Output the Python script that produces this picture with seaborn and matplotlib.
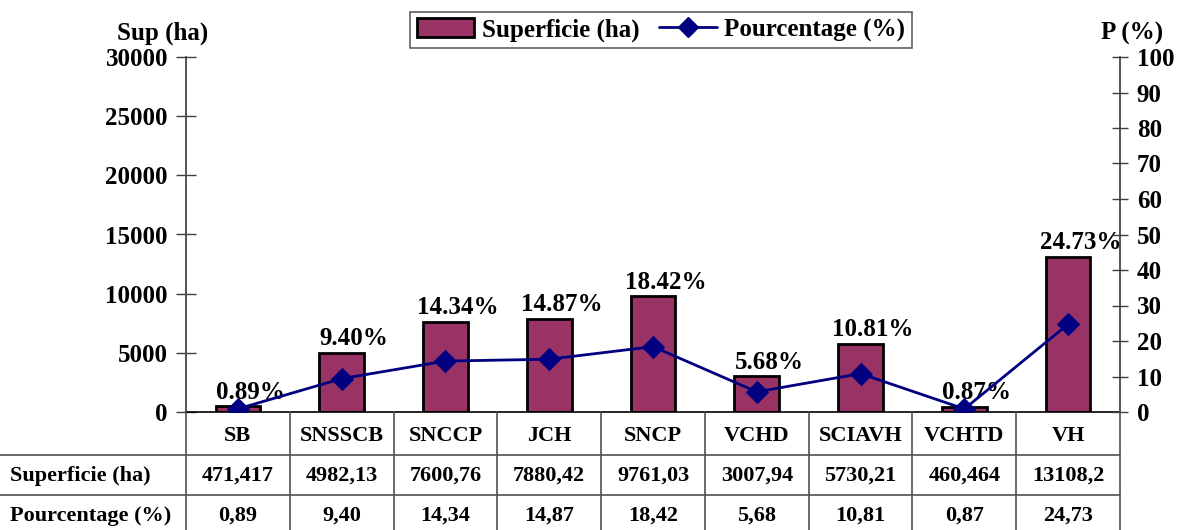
import numpy as np
import pandas as pd
import matplotlib
matplotlib.use("Agg")
import matplotlib.pyplot as plt
import matplotlib.transforms as mtransforms
from matplotlib.patches import Patch
from matplotlib.lines import Line2D
import seaborn as sns

categories = ["SB", "SNSSCB", "SNCCP", "JCH", "SNCP", "VCHD", "SCIAVH", "VCHTD", "VH"]
superficie = [471.417, 4982.13, 7600.76, 7880.42, 9761.03, 3007.94, 5730.21, 460.464, 13108.2]
pourcentage = [0.89, 9.40, 14.34, 14.87, 18.42, 5.68, 10.81, 0.87, 24.73]
superficie_txt = ["471,417", "4982,13", "7600,76", "7880,42", "9761,03", "3007,94", "5730,21", "460,464", "13108,2"]
pourcentage_txt = ["0,89", "9,40", "14,34", "14,87", "18,42", "5,68", "10,81", "0,87", "24,73"]
row_headers = ["Superficie (ha)", "Pourcentage (%)"]
left_ticks = [0, 5000, 10000, 15000, 20000, 25000, 30000]
right_ticks = [0, 10, 20, 30, 40, 50, 60, 70, 80, 90, 100]

BAR = "#993366"
LINE = "#000080"

sns.set_theme(style="white")
plt.rcParams["font.family"] = ["Liberation Serif", "DejaVu Serif"]
plt.rcParams["font.weight"] = "bold"
plt.rcParams["text.color"] = "black"
plt.rcParams["xtick.color"] = "black"
plt.rcParams["ytick.color"] = "black"
plt.rcParams["axes.labelcolor"] = "black"

W, H = 1186, 530
fig = plt.figure(figsize=(W / 100, H / 100), dpi=100)
ax = fig.add_axes([186 / W, 1 - 412 / H, (1120 - 186) / W, (412 - 57) / H])

df = pd.DataFrame({"cat": categories, "sup": superficie})
sns.barplot(data=df, x="cat", y="sup", color=BAR, saturation=1, edgecolor="black",
            linewidth=2, width=0.43, ax=ax)

ax2 = ax.twinx()
pos = np.arange(len(categories))
sns.lineplot(x=pos, y=pourcentage, ax=ax2, color=LINE, marker="D", markersize=11,
             linewidth=2, markeredgecolor=LINE)

n = len(categories)
ax.set_xlim(-0.5, n - 0.5)
ax.set_ylim(0, 30000)
ax2.set_ylim(0, 100)
ax.set_yticks(left_ticks)
ax.set_yticklabels([str(t) for t in left_ticks])
ax2.set_yticks(right_ticks)
ax2.set_yticklabels([str(t) for t in right_ticks])
ax.set_xticks(pos)
ax.set_xticklabels(categories)
for a in (ax, ax2):
    a.set_xlabel("")
    a.set_ylabel("")
    a.grid(False)
    for s in a.spines.values():
        s.set_visible(False)

ax.spines["left"].set_visible(True)
ax.spines["left"].set_color("#404040")
ax.spines["bottom"].set_visible(True)
ax.spines["bottom"].set_color("black")
ax.spines["bottom"].set_linewidth(1.2)
ax2.spines["right"].set_visible(True)
ax2.spines["right"].set_color("#404040")

ax.tick_params(axis="y", direction="inout", length=14, width=1, color="#404040",
               labelcolor="black", labelsize=18, pad=6, left=True)
ax2.tick_params(axis="y", direction="inout", length=12, width=1, color="#404040",
                labelcolor="black", labelsize=18, pad=6, right=True)
ax.tick_params(axis="x", length=0, labelsize=16, pad=10, labelcolor="black")
for lab in ax.get_yticklabels() + ax2.get_yticklabels() + ax.get_xticklabels():
    lab.set_fontweight("bold")

# data labels
for i, (s, p) in enumerate(zip(superficie, pourcentage)):
    ax.annotate(f"{p:.2f}%", xy=(i, s), xytext=(9, 2), textcoords="offset points",
                ha="center", va="bottom", fontsize=18, fontweight="bold", color="black")

# axis titles
fig.text(163 / W, 1 - 33 / H, "Sup (ha)", ha="center", va="center", fontsize=18, fontweight="bold")
fig.text(1132 / W, 1 - 33 / H, "P (%)", ha="center", va="center", fontsize=18, fontweight="bold")

# data table
trans = mtransforms.blended_transform_factory(ax.transData, fig.transFigure)
fig_bottom_axes = 1 - 412 / H
row1 = 1 - 455 / H
row2 = 1 - 495 / H
tcol = "#505050"
for b in np.arange(-0.5, n, 1.0):
    fig.add_artist(Line2D([b, b], [0, fig_bottom_axes], transform=trans, color=tcol, lw=1.2))
right_fig = 1120 / W
for yy in (row1, row2):
    fig.add_artist(Line2D([0, right_fig], [yy, yy], transform=fig.transFigure, color=tcol, lw=1.2))

fig.text(10 / W, 1 - 476 / H, row_headers[0], ha="left", va="center", fontsize=16, fontweight="bold")
fig.text(10 / W, 1 - 516 / H, row_headers[1], ha="left", va="center", fontsize=16, fontweight="bold")
for i in range(n):
    fig.text(i, 1 - 476 / H, superficie_txt[i], transform=trans, ha="center", va="center",
             fontsize=16, fontweight="bold")
    fig.text(i, 1 - 516 / H, pourcentage_txt[i], transform=trans, ha="center", va="center",
             fontsize=16, fontweight="bold")

# legend
handles = [Patch(facecolor=BAR, edgecolor="black", linewidth=2),
           Line2D([0], [0], color=LINE, lw=2, marker="D", markersize=10, markeredgecolor=LINE)]
leg = fig.legend(handles, ["Superficie (ha)", "Pourcentage (%)"], loc="center",
                 bbox_to_anchor=(661 / W, 1 - 30 / H), ncol=2, frameon=True, fancybox=False,
                 edgecolor="#606060", framealpha=1, prop={"size": 18, "weight": "bold"},
                 handlelength=2.3, handleheight=0.8, handletextpad=0.3, columnspacing=0.8,
                 borderpad=0.25, borderaxespad=0)
leg.get_frame().set_linewidth(1.2)
for t in leg.get_texts():
    t.set_color("black")

fig.savefig("out.png", dpi=100)
